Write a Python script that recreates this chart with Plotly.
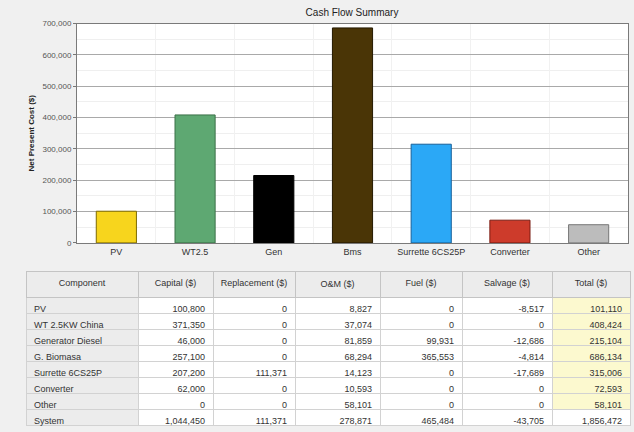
import plotly.graph_objects as go

# ---------------- data ----------------
bar_labels = ["PV", "WT2.5", "Gen", "Bms", "Surrette 6CS25P", "Converter", "Other"]

components = ["PV", "WT 2.5KW China", "Generator Diesel", "G. Biomasa",
              "Surrette 6CS25P", "Converter", "Other", "System"]
capital = [100800, 371350, 46000, 257100, 207200, 62000, 0, 1044450]
replacement = [0, 0, 0, 0, 111371, 0, 0, 111371]
om = [8827, 37074, 81859, 68294, 14123, 10593, 58101, 278871]
fuel = [0, 0, 99931, 365553, 0, 0, 0, 465484]
salvage = [-8517, 0, -12686, -4814, -17689, 0, 0, -43705]
total = [101110, 408424, 215104, 686134, 315006, 72593, 58101, 1856472]

headers = ["Component", "Capital ($)", "Replacement ($)", "O&M ($)",
           "Fuel ($)", "Salvage ($)", "Total ($)"]

y_ticks = [0, 100000, 200000, 300000, 400000, 500000, 600000, 700000]

# bar values are the component totals (system row excluded)
bar_values = total[:len(bar_labels)]

# ---------------- styles ----------------
bar_colors = ["#f7d51d", "#5ea872", "#000000", "#4a3506", "#2ba8f6", "#cd3b2b", "#bcbcbc"]
bar_edges = ["#7d6a00", "#3b7048", "#000000", "#241900", "#17609a", "#7a1c12", "#777777"]

FONT = "Liberation Sans, Arial, sans-serif"
W, H = 634, 432
CELLFONT = dict(family=FONT, size=9, color="#333333")


def fmt(v):
    return f"{v:,}"


def nb(s):
    return s.replace(" ", "\u00a0")


fig = go.Figure()

fig.add_trace(go.Bar(
    x=bar_labels, y=bar_values,
    marker=dict(color=bar_colors, line=dict(color=bar_edges, width=1)),
    width=0.51, showlegend=False,
    xaxis="x", yaxis="y",
))

columns = [components, capital, replacement, om, fuel, salvage, total]
col_text = [[nb(c) for c in components]] + [[fmt(v) for v in col] for col in columns[1:]]
n = len(components)
cell_fills = ([["#ececec"] * n] + [["#ffffff"] * n] * 5
              + [["#fcf9cf"] * (n - 1) + ["#ffffff"]])

fig.add_trace(go.Table(
    domain=dict(x=[26 / W, 630 / W], y=[0, (H - 273) / H]),
    columnwidth=[112, 75, 82, 85, 82, 90, 78],
    header=dict(
        values=[nb(h) for h in headers],
        fill_color="#ececec",
        line=dict(color="#c4c4c4", width=1),
        align="center",
        font=CELLFONT,
        height=17,
    ),
    cells=dict(
        values=col_text,
        fill_color=cell_fills,
        line=dict(color="#d2d2d2", width=1),
        align=["left", "right", "right", "right", "right", "right", "right"],
        font=CELLFONT,
        height=16,
    ),
))

fig.update_layout(
    width=W, height=H,
    margin=dict(l=0, r=0, t=0, b=0),
    paper_bgcolor="#f0f0f0",
    plot_bgcolor="#ffffff",
    font=dict(family=FONT, size=9, color="#333333"),
    title=dict(text="Cash Flow Summary", x=352 / W, xanchor="center",
               y=1 - 12 / H, yanchor="middle",
               font=dict(family=FONT, size=10, color="#222222")),
    xaxis=dict(
        domain=[77 / W, 628 / W],
        showline=True, linecolor="#7a7a7a", linewidth=1, mirror=True,
        tickfont=dict(size=9, color="#333333"),
        ticks="", tickson="boundaries",
        showgrid=True, gridcolor="#f1f1f1",
        fixedrange=True,
    ),
    yaxis=dict(
        domain=[(H - 244) / H, (H - 20) / H],
        range=[0, 700000],
        tickvals=y_ticks,
        ticktext=[fmt(v) for v in y_ticks],
        tickfont=dict(size=8, color="#555555"),
        ticks="outside", ticklen=3, tickcolor="#777777",
        showline=True, linecolor="#7a7a7a", linewidth=1, mirror=True,
        showgrid=True, gridcolor="#a9a9a9", gridwidth=1,
        minor=dict(dtick=50000, showgrid=True, gridcolor="#efefef"),
        zeroline=False,
        title=dict(text="<b>Net Present Cost ($)</b>", standoff=6,
                   font=dict(size=8, color="#222222")),
        fixedrange=True,
    ),
    bargap=0.49,
)

fig.write_html(
    "out.html",
    config={"displayModeBar": False},
    post_script="document.body.style.margin='0px';document.body.style.padding='0px';"
                "document.body.style.overflow='hidden';"
                "document.body.style.background='#f0f0f0';",
)
